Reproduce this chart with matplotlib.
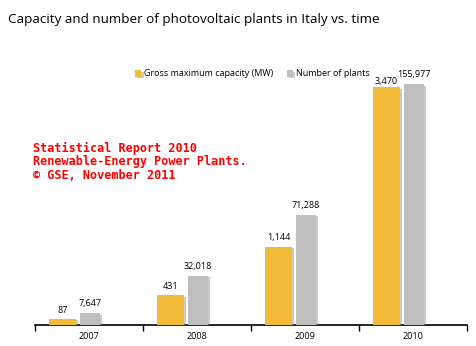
import matplotlib
matplotlib.use("Agg")
import matplotlib.pyplot as plt
import matplotlib.patheffects as pe
import numpy as np

years = ["2007", "2008", "2009", "2010"]
capacity_mw = [87, 431, 1144, 3470]
num_plants = [7647, 32018, 71288, 155977]
legend_labels = ["Gross maximum capacity (MW)", "Number of plants"]
title = "Capacity and number of photovoltaic plants in Italy vs. time"
watermark = "Statistical Report 2010\nRenewable-Energy Power Plants.\n\u00a9 GSE, November 2011"

YELLOW = "#F2BA36"
GRAY = "#BFBFBF"

W, H = 477, 346
fig = plt.figure(figsize=(W / 100, H / 100), dpi=100)
ax = fig.add_axes([35 / W, (H - 325) / H, (467 - 35) / W, (325 - 60) / H])
ax2 = ax.twinx()

x = np.arange(len(years))
shadow = [pe.SimplePatchShadow(offset=(1.5, -1), shadow_rgbFace="#999999", alpha=0.5), pe.Normal()]
b1 = ax.bar(x - 0.245, capacity_mw, width=0.25, color=YELLOW, zorder=3, path_effects=shadow,
            label=legend_labels[0])
b2 = ax2.bar(x + 0.005, num_plants, width=0.185, color=GRAY, zorder=3, path_effects=shadow,
             label=legend_labels[1])

ax.set_xlim(-0.5, 3.5)
ax.set_ylim(0, 3868)
ax2.set_ylim(0, 171700)

for a in (ax, ax2):
    for s in ("left", "right", "top"):
        a.spines[s].set_visible(False)
    a.set_yticks([])
ax2.spines["bottom"].set_visible(False)
ax.spines["bottom"].set_linewidth(1.2)

ax.set_xticks(x)
ax.set_xticklabels(years, fontsize=6.5, family="Open Sans")
ax.tick_params(axis="x", which="major", length=0, pad=5)
ax.set_xticks(np.arange(-0.5, 4, 1), minor=True)
ax.tick_params(axis="x", which="minor", length=4, width=1, direction="out")

cap_offsets = [3, 3, 3, 1]
for rect, v, off in zip(b1, capacity_mw, cap_offsets):
    ax.annotate(f"{v:,}", (rect.get_x() + rect.get_width() / 2, rect.get_height()),
                xytext=(0, off), textcoords="offset points", ha="center", va="bottom",
                fontsize=6.5, family="Open Sans")
for rect, v in zip(b2, num_plants):
    ax2.annotate(f"{v:,}", (rect.get_x() + rect.get_width() / 2, rect.get_height()),
                 xytext=(0, 3.5), textcoords="offset points", ha="center", va="bottom",
                 fontsize=6.5, family="Open Sans")

fig.text(8 / W, 1 - 20 / H, title, fontsize=9.7, family="Open Sans", va="center", ha="left")

fig.text(33 / W, 1 - 142 / H, watermark, fontsize=8.5, family="DejaVu Sans Mono",
         fontweight="bold", color="#FF0000", va="top", ha="left", linespacing=1.03)

handles = [b1, b2]
fig.legend(handles, legend_labels, loc="center left", bbox_to_anchor=(127 / W, 1 - 74 / H),
           ncol=2, frameon=False, handlelength=0.7, handleheight=0.7, handletextpad=0.3,
           columnspacing=1.5, prop={"family": "Open Sans", "size": 6.5})

fig.savefig("out.png", dpi=100, facecolor="white")
